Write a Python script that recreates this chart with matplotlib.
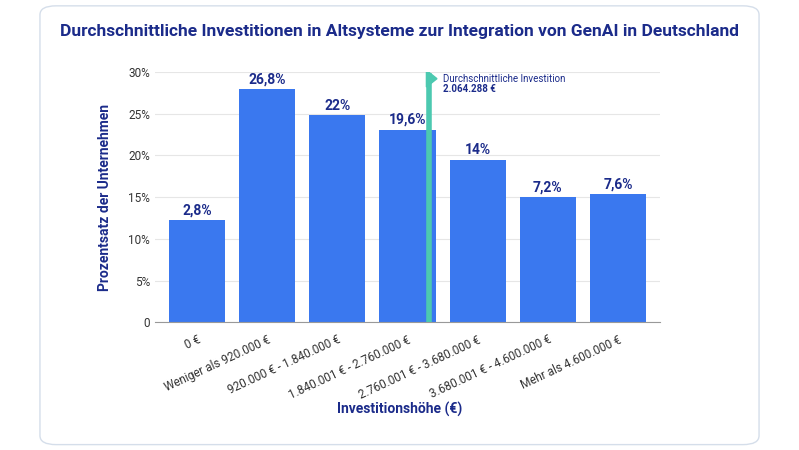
import matplotlib.pyplot as plt
from matplotlib.patches import FancyBboxPatch

plt.rcParams['font.family'] = 'Roboto'

categories = ['0 €', 'Weniger als 920.000 €', '920.000 € - 1.840.000 €', '1.840.001 € - 2.760.000 €',
              '2.760.001 € - 3.680.000 €', '3.680.001 € - 4.600.000 €', 'Mehr als 4.600.000 €']
bar_heights = [12.2, 28.0, 24.8, 23.1, 19.5, 15.0, 15.4]
bar_labels = ['2,8%', '26,8%', '22%', '19,6%', '14%', '7,2%', '7,6%']
avg_pos = 3.3
avg_top = 29.5

navy = '#1b2b8a'
blue = '#3a78ef'
teal = '#4cc9b0'

fig = plt.figure(figsize=(7.99, 4.5), dpi=100)
card = FancyBboxPatch((0.05, 0.012), 0.9, 0.975, boxstyle='round,pad=0,rounding_size=0.02',
                      transform=fig.transFigure, fc='white', ec='#d5deea', lw=1, zorder=-5)
fig.patches.append(card)
ax = fig.add_axes([0.194, 0.284, 0.632, 0.556])
ax.set_zorder(2)
ax.patch.set_alpha(0)
x = range(len(categories))
ax.bar(x, bar_heights, width=0.8, color=blue, zorder=2)
for i, (h, lab) in enumerate(zip(bar_heights, bar_labels)):
    ax.text(i, h + 0.3, lab, ha='center', va='bottom', fontsize=10, fontweight='bold', color=navy)

ax.plot([avg_pos, avg_pos], [0, avg_top], color=teal, lw=4, zorder=3)
ax.fill([avg_pos - 0.03, avg_pos + 0.12, avg_pos - 0.03], [avg_top + 0.7, avg_top - 0.3, avg_top - 1.3],
        color=teal, zorder=3)
ax.text(avg_pos + 0.2, avg_top - 0.3, 'Durchschnittliche Investition', fontsize=7, color=navy, va='center')
ax.text(avg_pos + 0.2, avg_top - 1.5, '2.064.288 €', fontsize=7, color=navy, va='center', fontweight='bold')

ax.set_ylim(0, 30)
ax.set_xlim(-0.6, 6.6)
ax.set_yticks(range(0, 31, 5))
ax.set_yticklabels(['0'] + [f'{v}%' for v in range(5, 31, 5)])
ax.set_xticks(list(x))
ax.set_xticklabels(categories, rotation=25, ha='right', rotation_mode='anchor')
ax.tick_params(length=0, labelsize=8.5, colors='#333333')
ax.tick_params(axis='x', pad=8)
ax.grid(axis='y', color='#e6e6e6', lw=0.8, zorder=0)
for s in ax.spines.values():
    s.set_visible(False)
ax.spines['bottom'].set_visible(True)
ax.spines['bottom'].set_color('#999999')
ax.set_ylabel('Prozentsatz der Unternehmen', fontsize=10, fontweight='bold', color=navy, labelpad=12)
fig.text(0.5, 0.08, 'Investitionshöhe (€)', ha='center', fontsize=10, fontweight='bold', color=navy)
fig.text(0.5, 0.92, 'Durchschnittliche Investitionen in Altsysteme zur Integration von GenAI in Deutschland',
         ha='center', fontsize=12.5, fontweight='bold', color=navy)
fig.savefig('out.png', dpi=100)
